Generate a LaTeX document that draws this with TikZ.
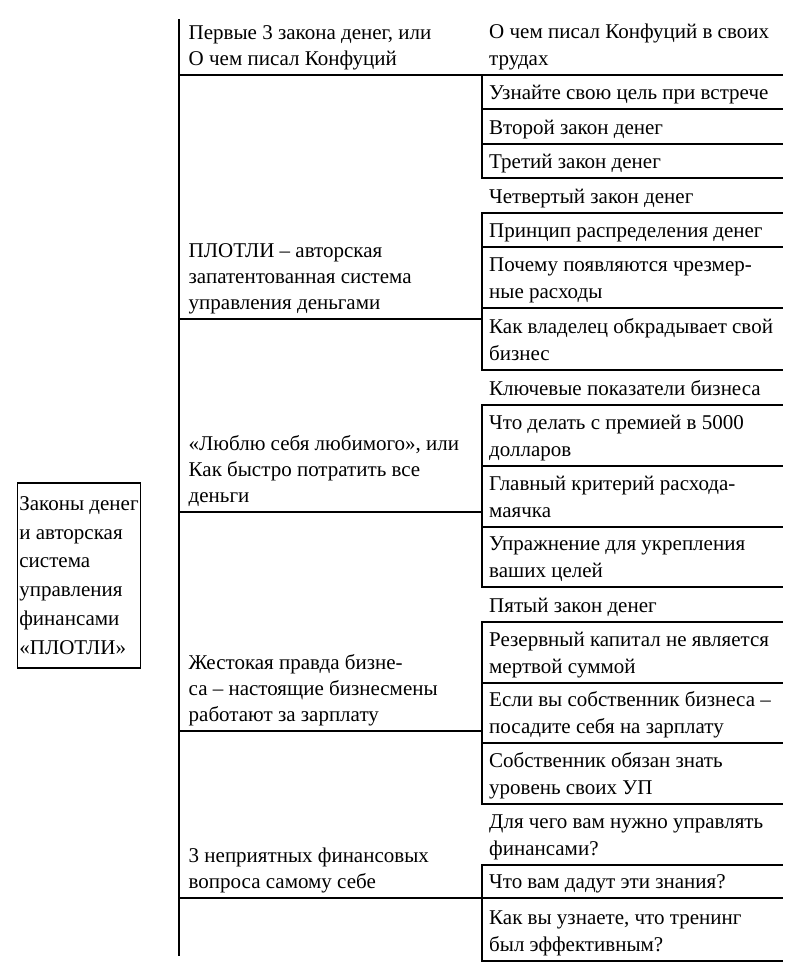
\documentclass[tikz,border=0pt]{standalone}
\usepackage{fontspec}
\setmainfont{Liberation Serif}
\newcommand\rcellx[6]{%
  \coordinate (#1nw) at (482,#2);
  \coordinate (#1sw) at (482,#3);
  \coordinate (#1se) at (782,#3);
  \node[txt] (#1) at (489,{#3-10}) {#6};
  \draw[rule] (#1sw) -- (#1se);
  \ifnum#5=1 \draw[rule] (#1nw) -- (#1sw);\fi
}
\newcommand\mcellx[5]{%
  \coordinate (#1nw) at (179,#2);
  \coordinate (#1sw) at (179,#3);
  \coordinate (#1se) at (482,#3);
  \node[txt, font=\fontsize{21}{26}\selectfont] (#1) at (188.5,{#3-10}) {#5};
  \draw[rule] (#1sw) -- (#1se);
}
\begin{document}
\begin{tikzpicture}[x=1pt,y=-1pt,
  rule/.style={line width=1.4pt, line cap=rect},
  txt/.style={anchor=base west, inner sep=0pt, align=left, font=\fontsize{21}{26.5}\selectfont},
  rootbox/.style={draw, line width=1.4pt, inner sep=2pt, align=left,
    font=\fontsize{21}{28.8}\selectfont, minimum width=120pt, minimum height=185pt}]
\useasboundingbox (0,0) rectangle (800,980);

% root
\node[rootbox] (root) at (79,575.5) {Законы денег\\и авторская\\система\\управления\\финансами\\«ПЛОТЛИ»};

% spine
\coordinate (spineTop) at (179,20);
\coordinate (spineBot) at (179,955);
\draw[rule] (spineTop) -- (spineBot);

% middle column
\mcellx{M1}{20}{75}{2}{Первые 3 закона денег, или\\О чем писал Конфуций}
\mcellx{M2}{75}{319}{3}{ПЛОТЛИ – авторская\\запатентованная система\\управления деньгами}
\mcellx{M3}{319}{512}{3}{«Люблю себя любимого», или\\Как быстро потратить все\\деньги}
\mcellx{M4}{512}{731}{3}{Жестокая правда бизне-\\са – настоящие бизнесмены\\работают за зарплату}
\mcellx{M5}{731}{898}{2}{3 неприятных финансовых\\вопроса самому себе}

% right column
\rcellx{R1}{20}{75}{2}{0}{О чем писал Конфуций в своих\\трудах}
\rcellx{R2}{75}{109}{1}{1}{Узнайте свою цель при встрече}
\rcellx{R3}{109}{144}{1}{1}{Второй закон денег}
\rcellx{R4}{144}{178}{1}{1}{Третий закон денег}
\rcellx{R5}{178}{213}{1}{0}{Четвертый закон денег}
\rcellx{R6}{213}{247}{1}{1}{Принцип распределения денег}
\rcellx{R7}{247}{308}{2}{1}{Почему появляются чрезмер-\\ные расходы}
\rcellx{R8}{308}{370}{2}{1}{Как владелец обкрадывает свой\\бизнес}
\rcellx{R9}{370}{405}{1}{0}{Ключевые показатели бизнеса}
\rcellx{R10}{405}{466}{2}{1}{Что делать с премией в 5000\\долларов}
\rcellx{R11}{466}{527}{2}{1}{Главный критерий расхода-\\маячка}
\rcellx{R12}{527}{587}{2}{1}{Упражнение для укрепления\\ваших целей}
\rcellx{R13}{587}{622}{1}{0}{Пятый закон денег}
\rcellx{R14}{622}{683}{2}{1}{Резервный капитал не является\\мертвой суммой}
\rcellx{R15}{683}{743}{2}{1}{Если вы собственник бизнеса –\\посадите себя на зарплату}
\rcellx{R16}{743}{804}{2}{1}{Собственник обязан знать\\уровень своих УП}
\rcellx{R17}{804}{865}{2}{0}{Для чего вам нужно управлять\\финансами?}
\rcellx{R18}{865}{898}{1}{1}{Что вам дадут эти знания?}
\rcellx{R19}{898}{961}{2}{1}{Как вы узнаете, что тренинг\\был эффективным?}
\end{tikzpicture}
\end{document}
